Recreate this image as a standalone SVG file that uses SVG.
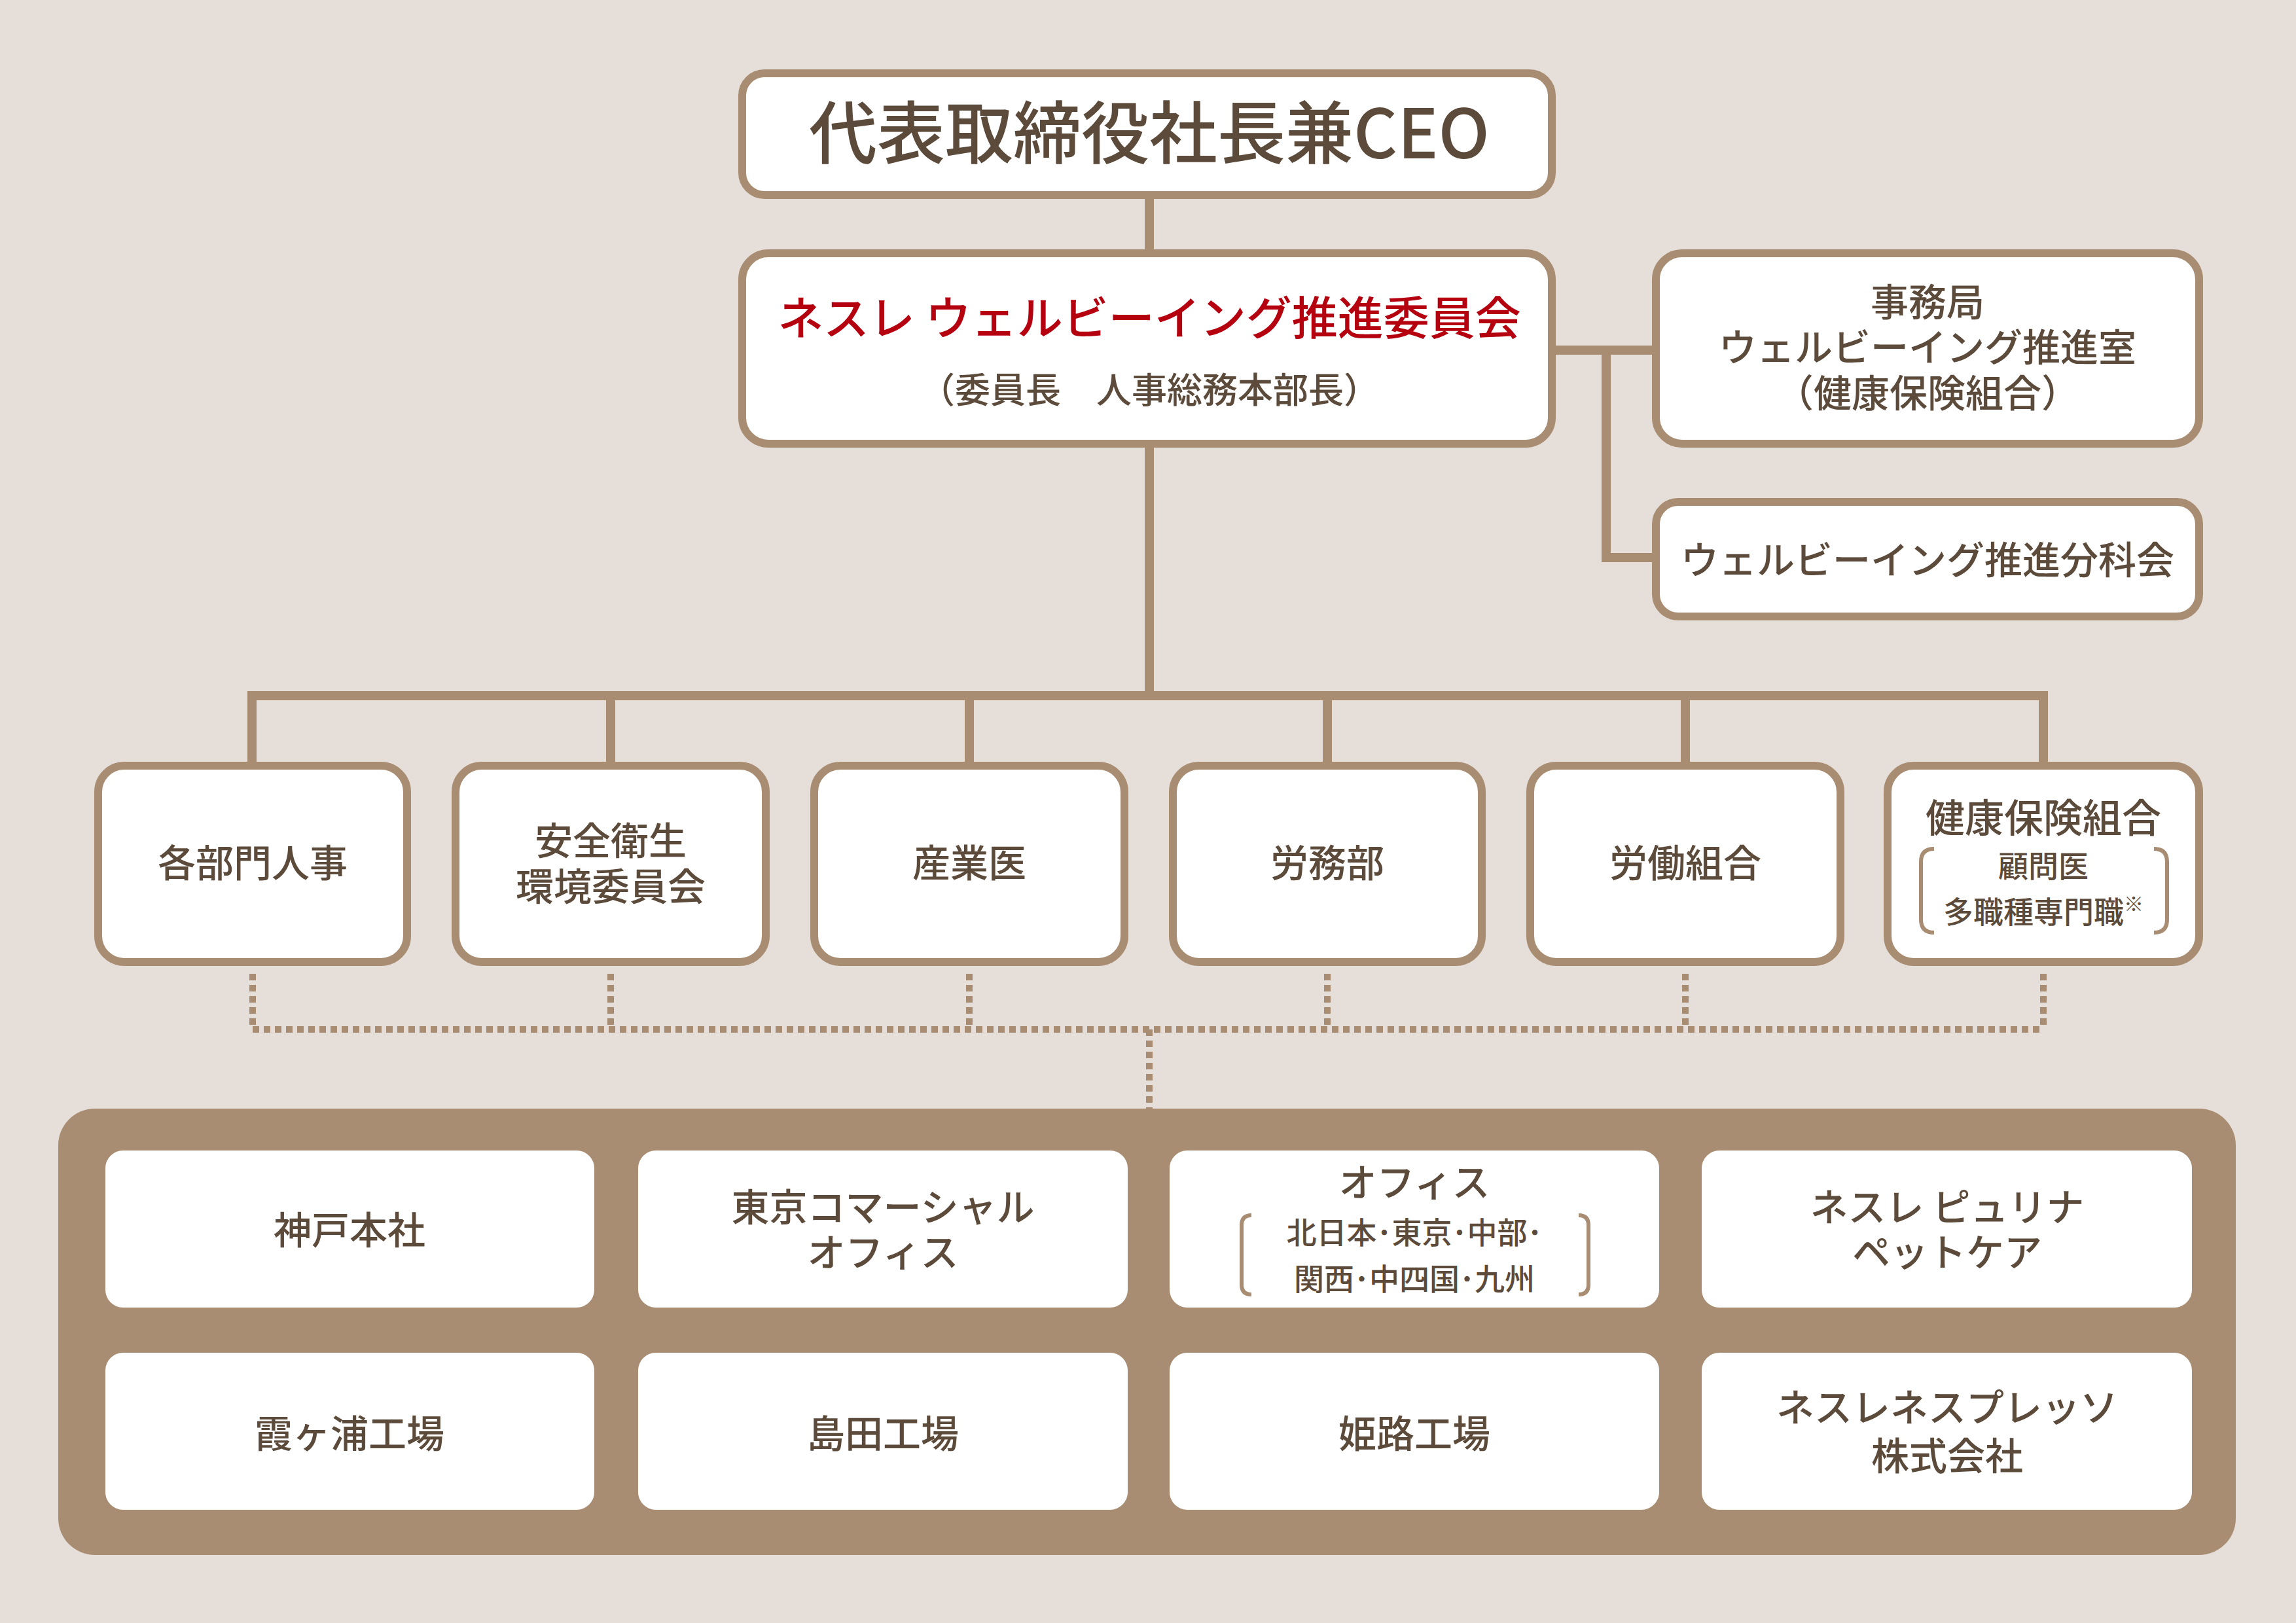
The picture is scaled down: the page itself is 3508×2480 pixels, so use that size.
<svg xmlns="http://www.w3.org/2000/svg" width="3508" height="2480" viewBox="0 0 3508 2480">
<style>
.box{fill:#fff;stroke:#a88d73;stroke-width:12}
.ln{stroke:#a88d73;stroke-width:14;fill:none}
.dot{stroke:#a88d73;stroke-width:10;fill:none;stroke-dasharray:10 7}
.br{stroke:#a88d73;stroke-width:6;fill:none}
.in{fill:#fff}
text{font-family:"Noto Sans CJK JP","Noto Sans",sans-serif;font-weight:500;fill:#5c4a3a;text-anchor:middle}
.t{font-size:58px}
.s{font-size:46px}
</style>
<rect width="3508" height="2480" fill="#e6dfd9"/>
<g id="connectors">
<path class="ln" d="M1756 298V387M1756 678V1063M385 1170V1063H3122V1170M933 1063V1170M1481 1063V1170M2028 1063V1170M2575 1063V1170M2371 535H2530M2454 535V852H2530"/>
<path class="dot" d="M386 1488V1573M933 1488V1573M1481 1488V1573M2028 1488V1573M2575 1488V1573M3122 1488V1573M386 1573H3122M1756 1573V1694"/>
</g>
<g id="ceo"><rect class="box" x="1134" y="112" width="1237" height="186" rx="34"/><text x="1756" y="242" font-size="104">代表取締役社長兼CEO</text></g>
<g id="committee"><rect class="box" x="1134" y="387" width="1237" height="291" rx="40"/><text x="1756" y="512" font-size="70" style="fill:#b5000f">ネスレ ウェルビーイング推進委員会</text><text x="1756" y="616" font-size="54">（委員長　人事総務本部長）</text></g>
<g id="secretariat"><rect class="box" x="2530" y="387" width="830" height="291" rx="40"/><text class="t" x="2945" y="483">事務局</text><text class="t" x="2945" y="552">ウェルビーイング推進室</text><text class="t" x="2945" y="622">（健康保険組合）</text></g>
<g id="subcommittee"><rect class="box" x="2530" y="767" width="830" height="175" rx="34"/><text class="t" x="2945" y="877">ウェルビーイング推進分科会</text></g>
<g id="n1"><rect class="box" x="150" y="1170" width="472" height="300" rx="40"/><text class="t" x="386" y="1340">各部門人事</text></g>
<g id="n2"><rect class="box" x="696" y="1170" width="474" height="300" rx="40"/><text class="t" x="933" y="1306">安全衛生</text><text class="t" x="933" y="1376">環境委員会</text></g>
<g id="n3"><rect class="box" x="1244" y="1170" width="474" height="300" rx="40"/><text class="t" x="1481" y="1340">産業医</text></g>
<g id="n4"><rect class="box" x="1792" y="1170" width="472" height="300" rx="40"/><text class="t" x="2028" y="1340">労務部</text></g>
<g id="n5"><rect class="box" x="2338" y="1170" width="474" height="300" rx="40"/><text class="t" x="2575" y="1340">労働組合</text></g>
<g id="n6"><rect class="box" x="2884" y="1170" width="476" height="300" rx="40"/><text x="3122" y="1272" font-size="60">健康保険組合</text><text class="s" x="3122" y="1340">顧問医</text><text class="s" x="3122" y="1410">多職種専門職<tspan font-size="30" dy="-18">※</tspan></text><path class="br" d="M2955 1297Q2935 1297 2935 1317V1405Q2935 1425 2955 1425M3291 1297Q3311 1297 3311 1317V1405Q3311 1425 3291 1425"/></g>
<g id="sites"><rect x="89" y="1694" width="3327" height="682" rx="56" fill="#a88d73"/></g>
<g id="b1"><rect class="in" x="161" y="1758" width="747" height="240" rx="27"/><text class="t" x="534" y="1901">神戸本社</text></g>
<g id="b2"><rect class="in" x="975" y="1758" width="748" height="240" rx="27"/><text class="t" x="1349" y="1866">東京コマーシャル</text><text class="t" x="1349" y="1935">オフィス</text></g>
<g id="b3"><rect class="in" x="1787" y="1758" width="748" height="240" rx="27"/><text class="t" x="2161" y="1828">オフィス</text><text class="s" x="2161" y="1900">北日本･東京･中部･</text><text class="s" x="2161" y="1971">関西･中四国･九州</text><path class="br" d="M1912 1857Q1897 1857 1897 1872V1963Q1897 1978 1912 1978M2412 1857Q2427 1857 2427 1872V1963Q2427 1978 2412 1978"/></g>
<g id="b4"><rect class="in" x="2600" y="1758" width="749" height="240" rx="27"/><text class="t" x="2975" y="1866">ネスレ ピュリナ</text><text class="t" x="2975" y="1935">ペットケア</text></g>
<g id="b5"><rect class="in" x="161" y="2067" width="747" height="240" rx="27"/><text class="t" x="534" y="2212">霞ヶ浦工場</text></g>
<g id="b6"><rect class="in" x="975" y="2067" width="748" height="240" rx="27"/><text class="t" x="1349" y="2212">島田工場</text></g>
<g id="b7"><rect class="in" x="1787" y="2067" width="748" height="240" rx="27"/><text class="t" x="2161" y="2212">姫路工場</text></g>
<g id="b8"><rect class="in" x="2600" y="2067" width="749" height="240" rx="27"/><text class="t" x="2975" y="2172">ネスレネスプレッソ</text><text class="t" x="2975" y="2246">株式会社</text></g>
</svg>
